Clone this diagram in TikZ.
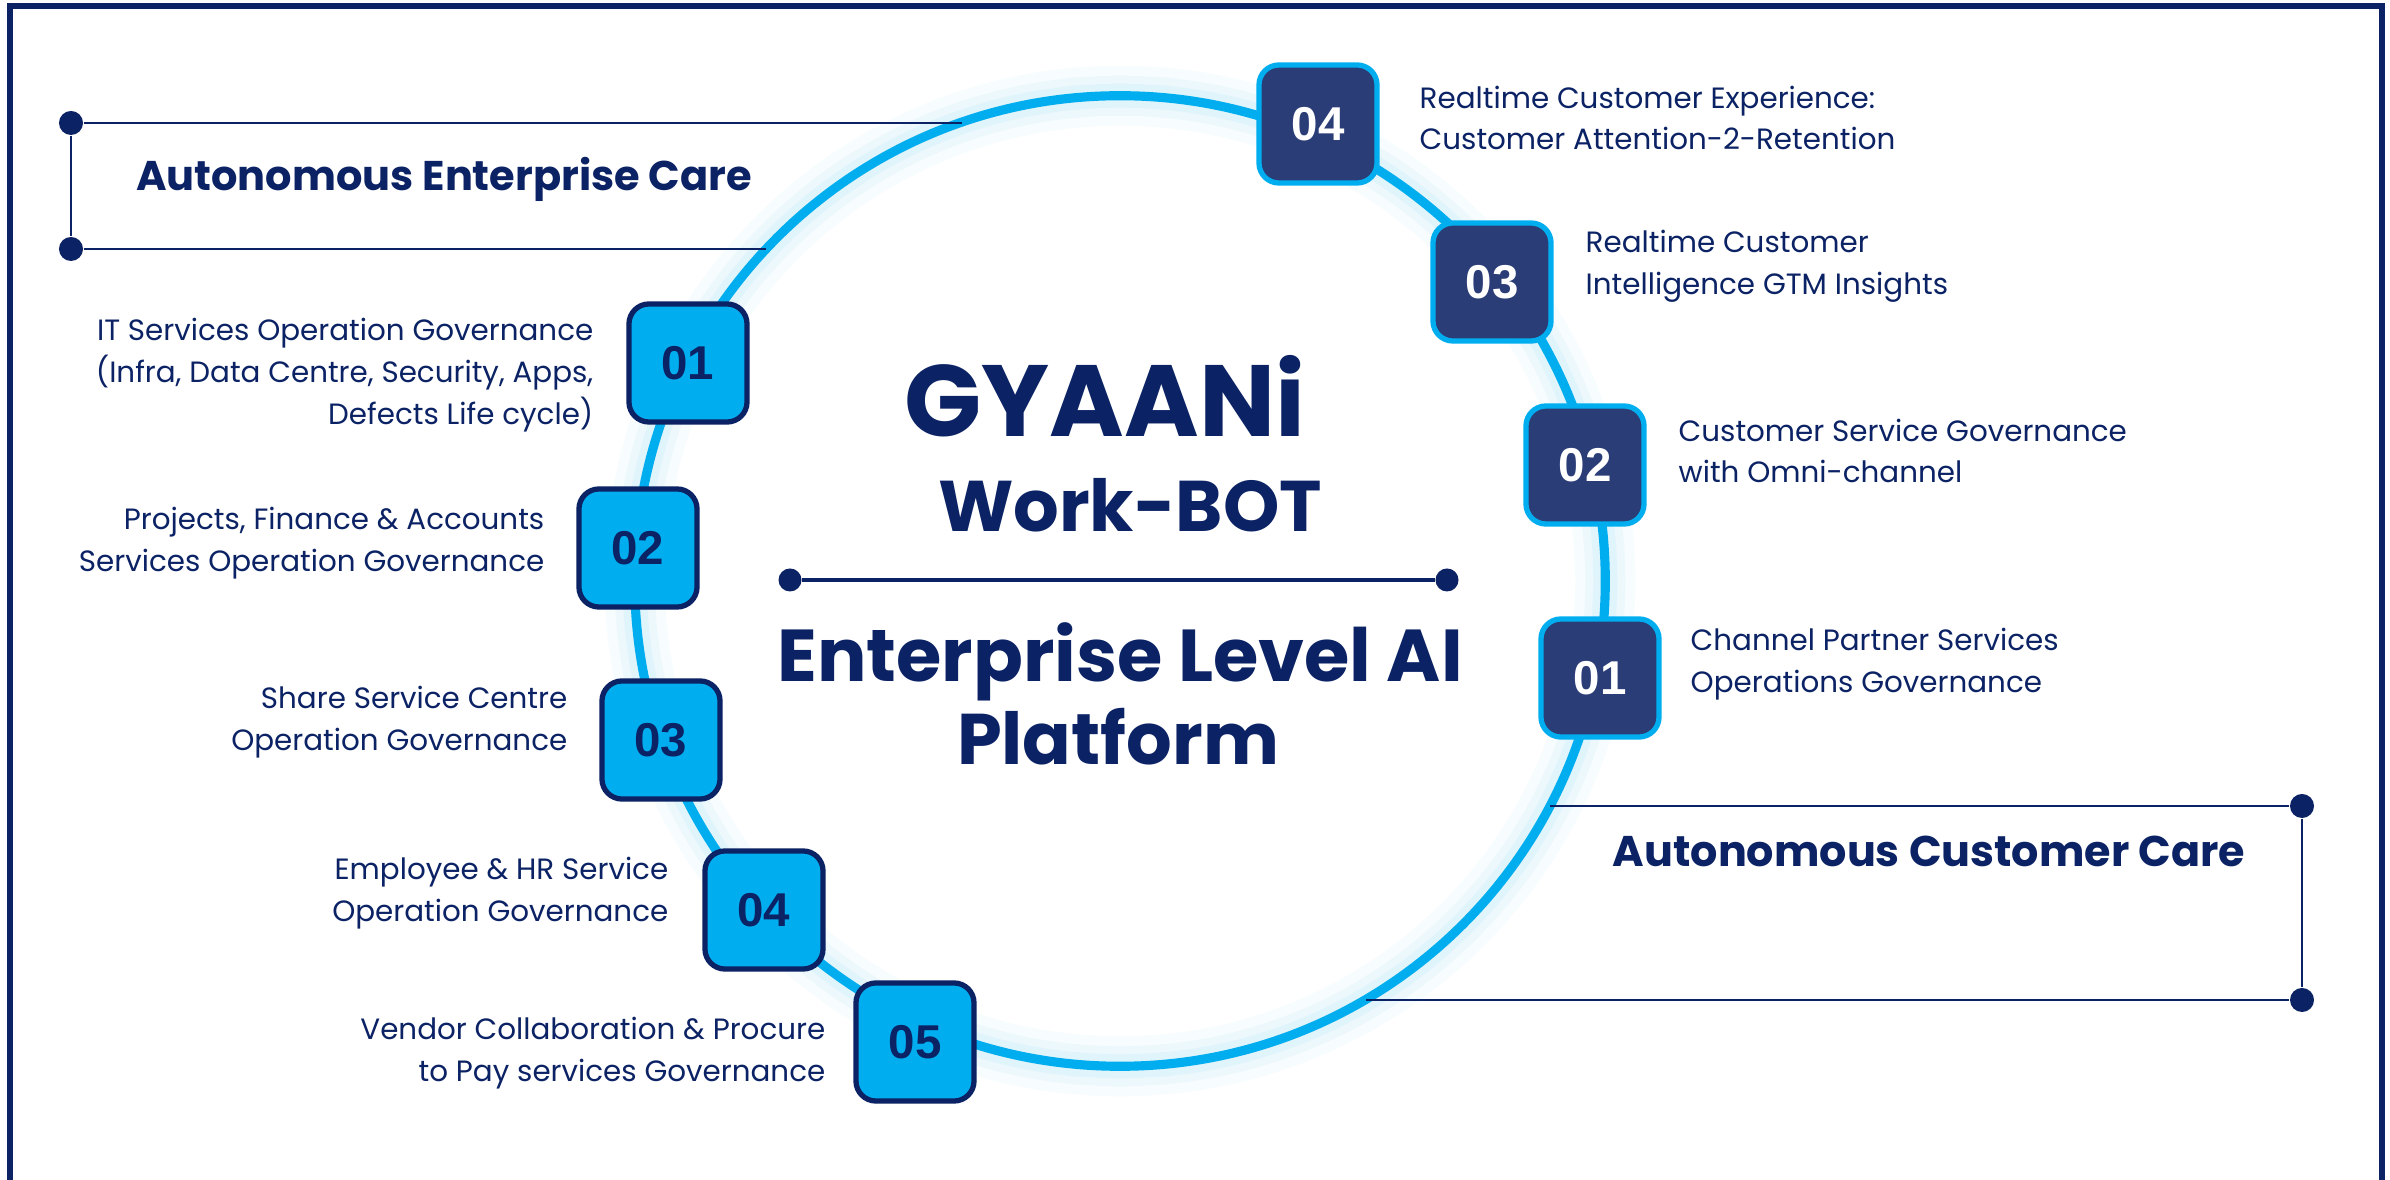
\documentclass[tikz,border=0pt]{standalone}
\usepackage{fontspec}
\setmainfont{Poppins}
\newfontfamily\numfont{Liberation Sans}
\usetikzlibrary{calc}
\definecolor{navy}{HTML}{0B2265}
\definecolor{cyanb}{HTML}{00AEEF}
\definecolor{slate}{HTML}{2B3D77}
\tikzset{
  body/.style={text=navy, inner sep=0pt, font=\fontsize{8.35}{11.9}\selectfont},
  lbody/.style={body, anchor=east, align=right},
  rbody/.style={body, anchor=west, align=left},
  headtxt/.style={text=navy, inner sep=0pt, anchor=base, font=\bfseries\fontsize{12.2}{14}\selectfont},
  bigtxt/.style={text=navy, inner sep=0pt, anchor=base, font=\bfseries\fontsize{20.6}{24}\selectfont},
  numbox/.style={rounded corners=0.2cm, minimum size=1.18cm, line width=1.5pt, inner sep=0pt,
     font=\numfont\bfseries\fontsize{13.5}{14}\selectfont},
  lbox/.style={numbox, draw=navy, fill=cyanb, text=navy},
  rbox/.style={numbox, draw=cyanb, fill=slate, text=white},
  ring/.style={draw=cyanb, line width=2.6pt},
  bracket/.style={draw=navy, line width=0.8pt},
  dot/.style={circle, fill=navy, inner sep=0pt, minimum size=0.24cm}
}
\begin{document}
\begin{tikzpicture}[x=0.01cm,y=-0.01cm]
\useasboundingbox (0,0) rectangle (2390,1180);
\fill[white] (0,0) rectangle (2390,1180);
\begin{scope}
\clip (0,0) rectangle (2390,1180);
\draw[navy, line width=1.7pt] (10,1250) -- (10,6) -- (2382,6) -- (2382,1250);
\end{scope}

% ring glow and ring
\coordinate (C) at (1120,581);
\foreach \w/\o in {60/0.03,40/0.04,24/0.05}
  \draw[cyanb, opacity=\o, line width=\w*0.2845pt] (C) circle[radius=4.85cm];
\draw[ring] (C) circle[radius=4.85cm];

% left bracket
\node[dot] (d1) at (71,123) {};
\node[dot] (d2) at (71,249) {};
\coordinate (r1) at (962,123);
\coordinate (r2) at (766,249);
\draw[bracket] (d1) -- (r1);
\draw[bracket] (d2) -- (r2);
\draw[bracket, line width=0.6pt] (d1) -- (d2);
\node[headtxt, font=\bfseries\fontsize{11.8}{14}\selectfont] (hEnt) at (444,191) {Autonomous Enterprise Care};

% right bracket
\node[dot] (d3) at (2302,806) {};
\node[dot] (d4) at (2302,1000) {};
\coordinate (r3) at (1550,806);
\coordinate (r4) at (1366,1000);
\draw[bracket] (r3) -- (d3);
\draw[bracket] (r4) -- (d4);
\draw[bracket, line width=0.6pt] (d3) -- (d4);
\node[headtxt] (hCus) at (1929,867) {Autonomous Customer Care};

% centre titles
\node[text=navy, inner sep=0pt, anchor=base, font=\bfseries\fontsize{28.8}{32}\selectfont] (gy) at (1105,437) {GYAANi};
\node[bigtxt, font=\bfseries\fontsize{20.4}{24}\selectfont] (wb) at (1130,532) {Work-BOT};
\node[dot, minimum size=0.23cm] (s1) at (790,580) {};
\node[dot, minimum size=0.23cm] (s2) at (1447,580) {};
\draw[navy, line width=0.9pt] (s1) -- (s2);
\node[bigtxt, font=\bfseries\fontsize{20.9}{24}\selectfont] (el) at (1120,682) {Enterprise Level AI};
\node[bigtxt, font=\bfseries\fontsize{20.4}{24}\selectfont] (pf) at (1118,765) {Platform};

% left boxes
\node[lbox] (L1) at (688,363) {01};
\node[lbox] (L2) at (638,548) {02};
\node[lbox] (L3) at (661,740) {03};
\node[lbox] (L4) at (764,910) {04};
\node[lbox] (L5) at (915,1042) {05};

\node[lbody] (tL1) at (594,375) {IT Services Operation Governance\\(Infra, Data Centre, Security, Apps,\\Defects Life cycle)};
\node[lbody] (tL2) at (545,543) {Projects, Finance \& Accounts\\Services Operation Governance};
\node[lbody] (tL3) at (568,722) {Share Service Centre\\Operation Governance};
\node[lbody] (tL4) at (669,893) {Employee \& HR Service\\Operation Governance};
\node[lbody] (tL5) at (826,1053) {Vendor Collaboration \& Procure\\to Pay services Governance};

% right boxes
\node[rbox] (R4) at (1318,124) {04};
\node[rbox] (R3) at (1492,282) {03};
\node[rbox] (R2) at (1585,465) {02};
\node[rbox] (R1) at (1600,678) {01};

\node[rbody] (tR4) at (1419,118) {Realtime Customer Experience:\\Customer Attention-2-Retention};
\node[rbody] (tR3) at (1585,266) {Realtime Customer\\Intelligence GTM Insights};
\node[rbody] (tR2) at (1678,451) {Customer Service Governance\\with Omni-channel};
\node[rbody] (tR1) at (1690,664) {Channel Partner Services\\Operations Governance};
\end{tikzpicture}
\end{document}
